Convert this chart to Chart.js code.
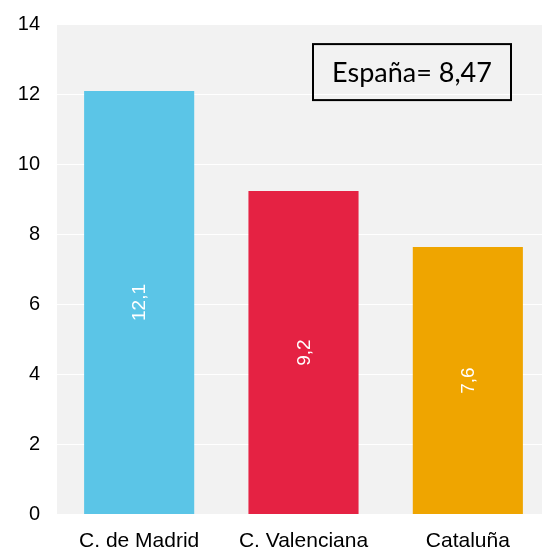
<!DOCTYPE html>
<html>
<head>
<meta charset="utf-8">
<script src="https://cdn.jsdelivr.net/npm/chart.js@4"></script>
<style>
  html, body { margin: 0; padding: 0; background: #fff; overflow: hidden; }
</style>
</head>
<body>
<canvas id="regionChart" width="560" height="549"></canvas>
<script>
// data
const regions = ['C. de Madrid', 'C. Valenciana', 'Cataluña'];
const values = [12.1, 9.24, 7.64];
const barColors = ['#5bc5e7', '#e52243', '#efa500'];
const yTicks = [0, 2, 4, 6, 8, 10, 12, 14];
const spainLabel = 'España= 8,47';

// grey plot background
const plotBg = {
    id: 'plotBg',
    beforeDraw(chart) {
        const { ctx, chartArea: a } = chart;
        ctx.save();
        ctx.fillStyle = '#f2f2f2';
        ctx.fillRect(a.left, a.top, a.right - a.left, a.bottom - a.top);
        ctx.restore();
    }
};

// rotated value labels inside the bars + the España box
const barLabels = {
    id: 'barLabels',
    afterDatasetsDraw(chart) {
        const ctx = chart.ctx;
        const meta = chart.getDatasetMeta(0);
        ctx.save();
        ctx.fillStyle = '#ffffff';
        ctx.font = '19px "Liberation Sans", Arial, sans-serif';
        ctx.textAlign = 'center';
        ctx.textBaseline = 'middle';
        meta.data.forEach((bar, i) => {
            const midY = (bar.y + bar.base) / 2;
            ctx.save();
            ctx.translate(bar.x, midY);
            ctx.rotate(-Math.PI / 2);
            ctx.fillText(values[i].toFixed(1).replace('.', ','), 0, 1);
            ctx.restore();
        });
        ctx.restore();
    },
    afterDraw(chart) {
        const ctx = chart.ctx;
        const y = chart.scales.y;
        const a = chart.chartArea;
        const left = a.left + 256, right = a.left + 454;
        const top = y.getPixelForValue(13.44), bottom = y.getPixelForValue(11.84);
        ctx.save();
        ctx.strokeStyle = '#000';
        ctx.lineWidth = 2;
        ctx.strokeRect(left, top, right - left, bottom - top);
        ctx.fillStyle = '#000';
        ctx.font = '27px Lato, "Open Sans", sans-serif';
        ctx.textAlign = 'center';
        ctx.textBaseline = 'middle';
        ctx.fillText(spainLabel, (left + right) / 2, (top + bottom) / 2 + 1);
        ctx.restore();
    }
};

new Chart(document.getElementById('regionChart').getContext('2d'), {
    type: 'bar',
    data: {
        labels: regions,
        datasets: [{
            data: values,
            backgroundColor: barColors,
            borderWidth: 0,
            barPercentage: 0.67,
            categoryPercentage: 1
        }]
    },
    options: {
        responsive: false,
        animation: false,
        layout: { padding: { top: 24.5, right: 10, bottom: 0, left: 0 } },
        plugins: { legend: { display: false }, tooltip: { enabled: false } },
        scales: {
            x: {
                grid: { display: false, drawTicks: false },
                border: { display: false },
                ticks: {
                    color: '#000',
                    padding: 14,
                    font: { family: '"Liberation Sans", Arial, sans-serif', size: 21 }
                },
                afterFit(scale) { scale.height = 34.5; scale.paddingLeft = 0; scale.paddingRight = 0; }
            },
            y: {
                min: 0,
                max: 14,
                afterBuildTicks(scale) { scale.ticks = yTicks.map(v => ({ value: v })); },
                grid: { color: '#ffffff', lineWidth: 1, drawTicks: false },
                border: { display: false },
                ticks: {
                    color: '#000',
                    padding: 17,
                    font: { family: '"Liberation Sans", Arial, sans-serif', size: 20 }
                },
                afterFit(scale) { scale.width = 57; scale.paddingTop = 0; scale.paddingBottom = 0; }
            }
        }
    },
    plugins: [plotBg, barLabels]
});
</script>
</body>
</html>
